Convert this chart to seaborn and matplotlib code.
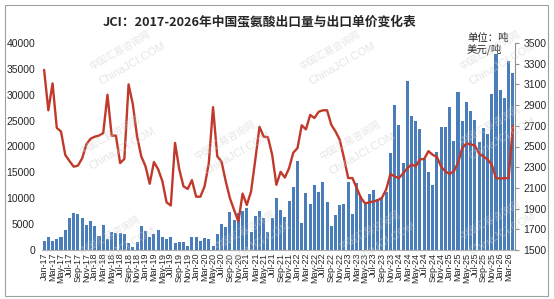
import matplotlib
matplotlib.use('Agg')
import matplotlib.pyplot as plt
from matplotlib.patches import Rectangle
import numpy as np
import pandas as pd
import seaborn as sns

# months Jan-17 .. Apr-26
months = pd.date_range('2017-01-01', '2026-04-01', freq='MS').strftime('%b-%y').tolist()

# export volume, tons (left axis)
volume = [
    1680, 2450, 1740, 2060, 2580, 3870, 6120, 7150, 7020, 6250, 4830, 5600,
    4640, 2700, 4770, 2120, 3420, 3220, 3350, 3030, 1350, 520, 1600, 4700,
    3730, 2510, 3150, 3870, 2450, 2120, 2510, 1420, 1480, 1480, 770, 2450,
    2580, 1740, 2320, 2120, 840, 3030, 5020, 4380, 7340, 5800, 7090, 7540,
    8180, 3420, 6630, 7540, 6250, 3540, 6250, 10110, 7660, 6380, 9530, 12170,
    17200, 5280, 11010, 8820, 12500, 11270, 13080, 9340, 4700, 6700, 8700, 8820,
    13140, 6890, 13010, 10500, 8820, 10820, 11590, 9920, 10110, 11210, 18800, 28000,
    24200, 16800, 32600, 25800, 25000, 23400, 17600, 15000, 12600, 19000, 23800, 23800,
    27600, 21000, 30600, 25000, 28600, 26800, 25200, 20800, 23600, 22400, 30200, 37800,
    31000, 29400, 36600, 34200,
]

# export unit price, USD/ton (right axis)
price = [
    3240, 2850, 3110, 2680, 2645, 2420, 2360, 2305, 2315, 2385, 2520, 2575,
    2595, 2605, 2630, 3000, 2605, 2605, 2340, 2380, 3100, 2910, 2600, 2405,
    2310, 2140, 2350, 2280, 2165, 1960, 1930, 2535, 2280, 2115, 2090, 2175,
    2015, 2015, 2115, 2340, 2880, 2405, 2355, 2165, 2000, 1885, 1775, 2045,
    1935, 2065, 2370, 2690, 2595, 2590, 2420, 2130, 2255, 2200, 2290, 2440,
    2485, 2705, 2665, 2805, 2775, 2835, 2850, 2850, 2710, 2645, 2565, 2390,
    2195, 2195, 2100, 2005, 1950, 1960, 1970, 1980, 2005, 2085, 2235, 2210,
    2195, 2240, 2290, 2325, 2310, 2375, 2380, 2455, 2420, 2400, 2305, 2260,
    2235, 2260, 2340, 2485, 2530, 2520, 2510, 2430, 2405, 2375, 2325, 2195,
    2190, 2195, 2195, 2700,
]

sns.set_style('white')
plt.rcParams['font.family'] = ['Liberation Sans', 'Noto Sans CJK SC', 'DejaVu Sans']

fig = plt.figure(figsize=(5.54, 2.99), dpi=100)
ax = fig.add_axes([42/554, 1-250/299, 473/554, 207/299])

sns.barplot(x=months, y=volume, color='#4a7ebb', saturation=1, width=0.72,
            edgecolor='none', linewidth=0, ax=ax)
ax.set_ylim(0, 40000)
ax.set_yticks(range(0, 40001, 5000))
ax.tick_params(axis='y', labelsize=7.5, length=0, pad=5)
ax.set_xticks(range(0, len(months), 2))
ax.set_xticklabels(months[::2], rotation=90, fontsize=6.5)
ax.tick_params(axis='x', length=0, pad=2)
ax.set_xlabel('')
for s in ['top', 'left', 'right']:
    ax.spines[s].set_visible(False)
ax.spines['bottom'].set_color('#b0b0b0')

ax2 = ax.twinx()
sns.lineplot(x=np.arange(len(months)), y=price, color='#c0392b', linewidth=1.7, ax=ax2)
ax2.set_ylim(1500, 3500)
ax2.set_yticks(range(1500, 3501, 200))
ax2.tick_params(axis='y', labelsize=7.5, length=3, color='#909090', pad=3)
for s in ['top', 'left', 'bottom']:
    ax2.spines[s].set_visible(False)
ax2.spines['right'].set_color('#909090')
ax.set_xlim(-0.5, len(months) - 0.5)

fig.text(260/554, 1-22/299, 'JCI：2017-2026年中国蛋氨酸出口量与出口单价变化表',
         ha='center', va='center', fontsize=9.2, fontweight='bold',
         family=['Noto Sans CJK SC'])
fig.text(467/554, 1-38/299, '单位：吨', ha='left', va='center', fontsize=7.5,
         family=['Noto Sans CJK SC'])
fig.text(467/554, 1-49/299, '美元/吨', ha='left', va='center', fontsize=7.5,
         family=['Noto Sans CJK SC'])

# faint watermarks
for wx, wy in [(120, 50), (330, 50), (490, 50), (110, 135), (225, 140), (350, 140),
               (490, 125), (110, 235), (245, 230), (370, 230), (490, 220)]:
    fig.text(wx/554, 1-wy/299, '中国汇易咨询网', rotation=30, fontsize=7,
             color='#cccccc', alpha=0.5, ha='center', va='center',
             family=['Noto Sans CJK SC'])
    fig.text((wx+12)/554, 1-(wy+14)/299, 'ChinaJCI.COM', rotation=30, fontsize=8,
             color='#cccccc', alpha=0.5, ha='center', va='center')

fig.patches.append(Rectangle((5/554, 1-296/299), 543/554, 291/299,
                             transform=fig.transFigure, fill=False,
                             edgecolor='#a0a0a0', linewidth=0.8))

fig.savefig('out.png', dpi=100)
